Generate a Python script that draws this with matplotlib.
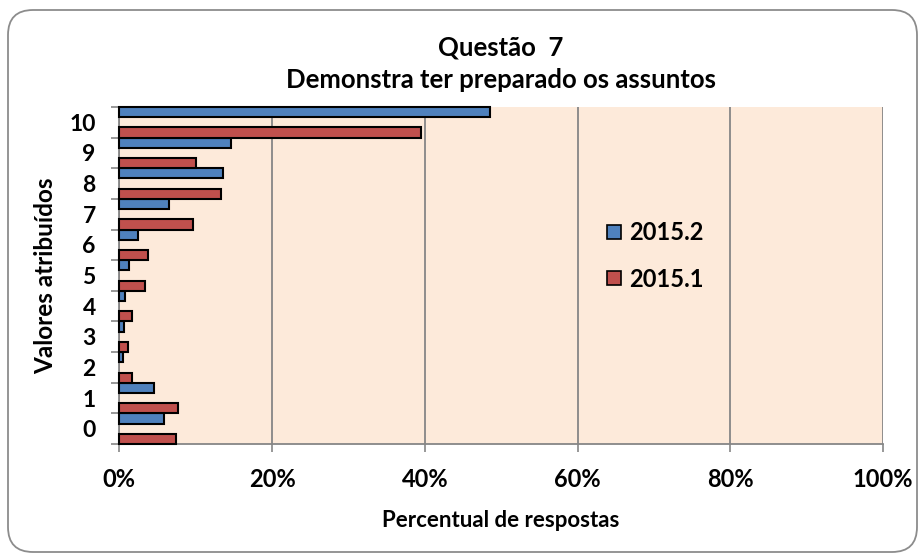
import numpy as np
import matplotlib.pyplot as plt
from matplotlib.patches import FancyBboxPatch
from matplotlib.lines import Line2D

plt.rcParams['font.family'] = ['Lato', 'DejaVu Sans']
plt.rcParams['font.weight'] = 'bold'

# dados (percentuais)
valores = ['0', '1', '2', '3', '4', '5', '6', '7', '8', '9', '10']
pct_2015_2 = [5.8, 4.5, 0.5, 0.6, 0.7, 1.3, 2.5, 6.5, 13.6, 14.6, 48.6]
pct_2015_1 = [7.4, 7.7, 1.7, 1.1, 1.6, 3.4, 3.7, 9.6, 13.3, 10.1, 39.5]
series = ['2015.2', '2015.1']

azul = '#4F81BD'
vermelho = '#C0504D'
fundo = '#FDEADA'
cinza = '#868686'

fig = plt.figure(figsize=(9.24, 5.59), dpi=100)

# moldura arredondada
borda = FancyBboxPatch((0.08, 0.07), 9.09, 5.42,
                       boxstyle='round,pad=0,rounding_size=0.25',
                       transform=fig.dpi_scale_trans, facecolor='white',
                       edgecolor='#8C8C8C', linewidth=1.3, zorder=-10)
fig.patches.append(borda)

ax = fig.add_axes([0.1291, 0.2057, 0.8265, 0.6029])
ax.set_facecolor(fundo)

y = np.arange(len(valores))
h = 1 / 3
ax.barh(y + h, pct_2015_2, height=h, color=azul, edgecolor='black',
        linewidth=1.5, zorder=3, label=series[0], clip_on=False)
ax.barh(y - h, pct_2015_1, height=h, color=vermelho, edgecolor='black',
        linewidth=1.5, zorder=3, label=series[1], clip_on=False)

ax.set_xlim(0, 100)
ax.set_ylim(-0.5, len(valores) - 0.5)
ax.set_xticks(np.arange(0, 101, 20))
ax.set_xticklabels([f'{v}%' for v in range(0, 101, 20)])
ax.set_yticks(y)
ax.set_yticklabels(valores)
ax.set_yticks(np.arange(-0.5, len(valores), 1), minor=True)

ax.tick_params(axis='y', which='major', length=0, pad=17, labelsize=16.5)
ax.tick_params(axis='y', which='minor', length=6, color=cinza, width=1.2)
ax.tick_params(axis='x', length=6, color=cinza, width=1.2, pad=11, labelsize=17)

ax.xaxis.grid(True, color=cinza, linewidth=1.3, zorder=1)
ax.set_axisbelow(True)
for lado in ['top', 'right']:
    ax.spines[lado].set_visible(False)
for lado in ['left', 'bottom']:
    ax.spines[lado].set_color(cinza)
    ax.spines[lado].set_linewidth(1.3)

ax.set_xlabel('Percentual de respostas', fontsize=16, fontweight='bold', va='center')
ax.xaxis.set_label_coords(0.5, -0.228)
ax.set_ylabel('Valores atribuídos', fontsize=17.5, fontweight='bold', va='center')
ax.yaxis.set_label_coords(-0.097, 0.5)

xc = 0.1291 + 0.8265 / 2
fig.text(xc, 0.900, 'Questão  7', ha='center', va='baseline', fontsize=18.5, fontweight='bold')
fig.text(xc, 0.843, 'Demonstra ter preparado os assuntos', ha='center', va='baseline',
         fontsize=18.5, fontweight='bold')

alcas = [Line2D([], [], marker='s', linestyle='none', markersize=10.5,
                markerfacecolor=c, markeredgecolor='black', markeredgewidth=1.2)
         for c in [azul, vermelho]]
ax.legend(alcas, series, loc='center left', bbox_to_anchor=(0.609, 0.558),
          frameon=False, handlelength=0.7, handletextpad=0.28,
          labelspacing=1.0, prop={'weight': 'bold', 'size': 17})

fig.savefig('out.png', dpi=100)
